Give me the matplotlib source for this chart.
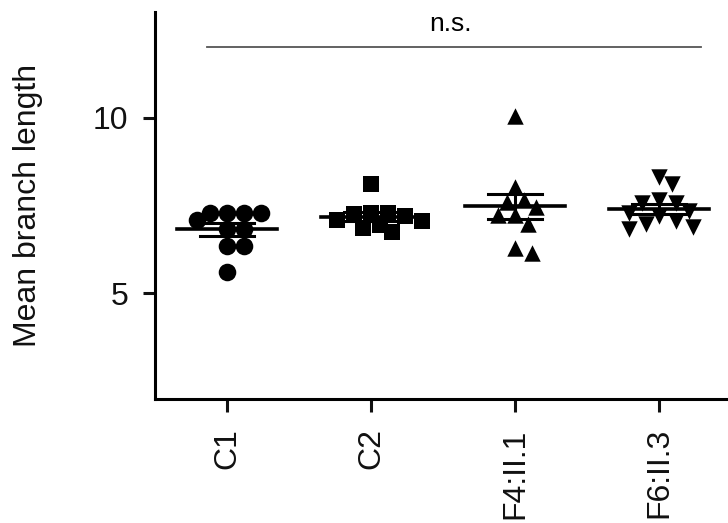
import numpy as np
import matplotlib
matplotlib.use("Agg")
import matplotlib.pyplot as plt

plt.rcParams['font.family'] = ['Liberation Sans', 'DejaVu Sans']

# groups and values
groups = ["C1", "C2", "F4:II.1", "F6:II.3"]
c1 = [7.30, 7.30, 7.10, 7.30, 7.30, 6.82, 6.82, 6.34, 6.34, 5.60]
c2 = [8.10, 7.30, 7.30, 7.25, 7.20, 7.10, 7.05, 6.95, 6.85, 6.75]
f4 = [10.05, 8.04, 7.67, 7.61, 7.47, 7.24, 7.24, 6.96, 6.16, 6.28]
f6 = [8.32, 8.10, 7.58, 7.58, 7.67, 7.35, 7.30, 7.20, 7.05, 6.96, 6.82, 6.90]
values = [c1, c2, f4, f6]
markers = ["o", "s", "^", "v"]
yticks = [5, 10]

fig = plt.figure(figsize=(7.28, 5.23), dpi=100)
ax = fig.add_axes([155/728, 124/523, 576/728, 387/523])
ax.set_xlim(-0.5, 3.5)
ax.set_ylim(2, 13)

# pixels per data unit, used for the swarm layout
px_x = 576 / 4.0
px_y = 387 / 11.0
diam = 17.0


def swarm(vals):
    # simple beeswarm: place each point as close to the centre as possible
    order = np.argsort(vals)[::-1]
    placed = []
    offs = np.zeros(len(vals))
    for i in order:
        y = vals[i] * px_y
        cands = [0.0]
        for k in range(1, 60):
            cands += [k * diam / 4, -k * diam / 4]
        for c in cands:
            ok = True
            for (px, py) in placed:
                if (px - c) ** 2 + (py - y) ** 2 < (diam * 0.85) ** 2:
                    ok = False
                    break
            if ok:
                offs[i] = c
                placed.append((c, y))
                break
    return offs / px_x


for i, (vals, m) in enumerate(zip(values, markers)):
    vals = np.array(vals)
    offs = swarm(vals)
    ms = 160 if m == "o" else 140
    ax.scatter(i + offs, vals, marker=m, s=ms, color="black", linewidths=0, zorder=3)
    mean = vals.mean()
    sem = vals.std(ddof=1) / np.sqrt(len(vals))
    ax.plot([i - 0.35, i + 0.35], [mean, mean], color="black", lw=2.6, zorder=4)
    ax.plot([i - 0.19, i + 0.19], [mean + sem, mean + sem], color="black", lw=2.2, zorder=4)
    ax.plot([i - 0.19, i + 0.19], [mean - sem, mean - sem], color="black", lw=2.2, zorder=4)
    ax.plot([i, i], [mean - sem, mean + sem], color="black", lw=2.2, zorder=4)

# n.s. bracket
ax.plot([-0.139, 3.29], [12, 12], color="#555555", lw=1.3, clip_on=False)
ax.text(1.55, 12.45, "n.s.", ha="center", va="baseline", fontsize=19)

ax.spines["top"].set_visible(False)
ax.spines["right"].set_visible(False)
ax.spines["left"].set_linewidth(2.2)
ax.spines["bottom"].set_linewidth(2.2)
ax.set_xticks(range(len(groups)))
ax.set_xticklabels(groups, rotation=90, fontsize=23)
ax.set_yticks(yticks)
ax.set_yticklabels([str(t) for t in yticks], fontsize=23)
ax.tick_params(axis="both", length=9, width=2.2, direction="out", colors="#111111")
ax.tick_params(axis="y", pad=10)
ax.tick_params(axis="x", pad=12)
ax.set_ylabel("Mean branch length", fontsize=23, labelpad=36, color="#111111")

fig.savefig("out.png", dpi=100)
